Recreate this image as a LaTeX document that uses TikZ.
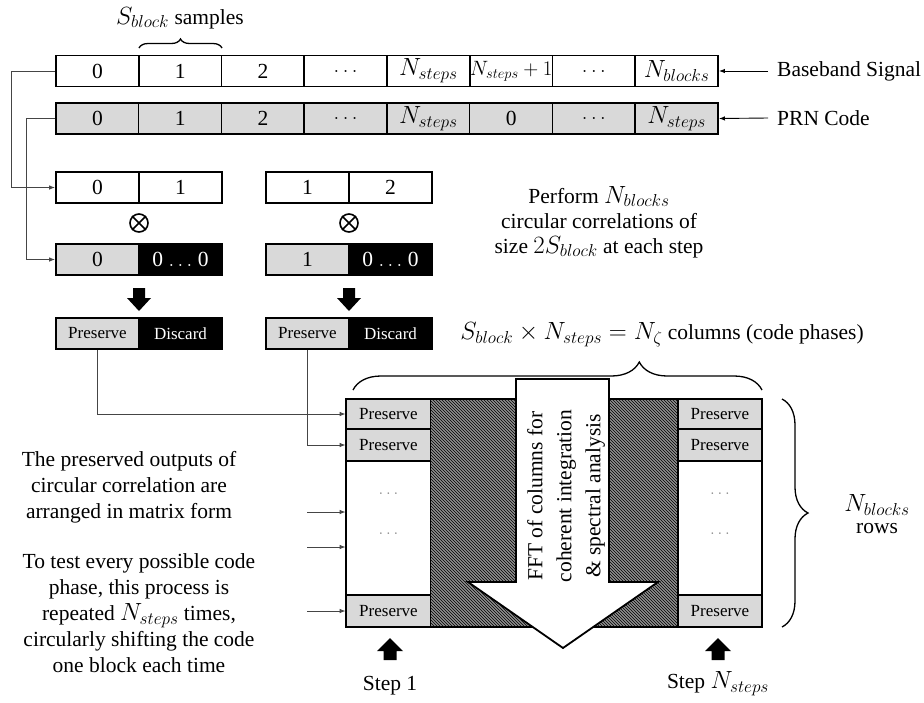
\documentclass[tikz,border=0pt]{standalone}
\usepackage{fontspec}
\setmainfont{Liberation Serif}
\usetikzlibrary{arrows.meta,patterns,decorations.pathreplacing,calc}

\definecolor{cellgray}{HTML}{D9D9D9}
\definecolor{linegray}{HTML}{454545}
\definecolor{hatchgray}{HTML}{8E8E8E}
\definecolor{dotgray}{HTML}{8A8A8A}

\newcommand\bigtext{\fontsize{21.5}{26}\selectfont}
\newcommand\smalltext{\fontsize{17}{20}\selectfont}
\newcommand\mth[1]{{\fontsize{24}{26}\selectfont$#1$}}

\begin{document}
\begin{tikzpicture}[x=1pt,y=-1pt,
  every node/.style={font=\bigtext},
  cell/.style={draw, line width=1.7pt, minimum width=83pt, minimum height=31pt, inner sep=0pt},
  gcell/.style={cell, fill=cellgray},
  kcell/.style={cell, fill=black, text=white},
  mcell/.style={gcell, font=\smalltext, minimum width=84pt},
  link/.style={draw=linegray, line width=0.9pt, -{Latex[length=6pt,width=4.5pt]}},
  tip/.style={draw=black, line width=0.9pt, -{Latex[length=6pt,width=4.5pt]}},
  otimes/.style={circle, draw, line width=1.6pt, minimum size=18pt, inner sep=0pt},
  brc/.style={draw, line width=1.3pt, decorate},
  fatdown/.pic={\fill (-6,0) -- (6,0) -- (6,10) -- (12,10) -- (0,23) -- (-12,10) -- (-6,10) -- cycle;},
  fatup/.pic={\fill (-6.5,0) -- (6.5,0) -- (6.5,-9) -- (13,-9) -- (0,-22) -- (-13,-9) -- (-6.5,-9) -- cycle;}
]
\useasboundingbox (0,0) rectangle (924,702);

% ---- baseband signal and PRN code rows
\foreach \i/\t in {0/0,1/1,2/2,3/{$\dots$},4/{\mth{N_{steps}}},5/{\fontsize{19.5}{20}\selectfont$N_{steps}+1$},6/{$\dots$},7/{\mth{N_{blocks}}}}
  \node[cell] (b\i) at ({56+82.75*(\i+0.5)},71) {\t};
\foreach \i/\t in {0/0,1/1,2/2,3/{$\dots$},4/{\mth{N_{steps}}},5/0,6/{$\dots$},7/{\mth{N_{steps}}}}
  \node[gcell] (p\i) at ({56+82.75*(\i+0.5)},118.5) {\t};

\draw[decorate, brc, decoration={brace, amplitude=9pt}] (139,48) -- (222,48);
\node (samples) at (180,18) {\mth{S_{block}} samples};

\node[anchor=west, inner xsep=9pt, inner ysep=0pt] (bb) at (768,71) {Baseband Signal};
\node[anchor=west, inner xsep=9pt, inner ysep=0pt] (prn) at (768,118) {PRN Code};
\draw[tip] (bb.west) -- (b7.east);
\draw[tip] (prn.west) -- (p7.east);

% ---- first circular correlation
\node[cell] (u0) at (97.5,187.5) {0};
\node[cell] (u1) at (180.5,187.5) {1};
\node[otimes] (x1) at (139,223) {};
\draw[line width=1.6pt] (x1.north west) -- (x1.south east) (x1.north east) -- (x1.south west);
\node[gcell] (c0) at (97.5,259.5) {0};
\node[kcell] (z0) at (180.5,259.5) {0 $\dots$ 0};
\pic at (139,288) {fatdown};
\node[gcell, font=\smalltext] (keep1) at (97.5,333.5) {Preserve};
\node[kcell, font=\smalltext] (drop1) at (180.5,333.5) {Discard};

% ---- second circular correlation
\node[cell] (v0) at (307.5,187.5) {1};
\node[cell] (v1) at (390.5,187.5) {2};
\node[otimes] (x2) at (349,223) {};
\draw[line width=1.6pt] (x2.north west) -- (x2.south east) (x2.north east) -- (x2.south west);
\node[gcell] (c1) at (307.5,259.5) {1};
\node[kcell] (z1) at (390.5,259.5) {0 $\dots$ 0};
\pic at (349,288) {fatdown};
\node[gcell, font=\smalltext] (keep2) at (307.5,333.5) {Preserve};
\node[kcell, font=\smalltext] (drop2) at (390.5,333.5) {Discard};

\draw[link] (b0.west) -- ++(-44,0) |- (u0.west);
\draw[link] (p0.west) -- ++(-29,0) |- (c0.west);

\node[align=center, font=\fontsize{21.5}{25}\selectfont] (perform) at (599,222)
  {Perform \mth{N_{blocks}}\\circular correlations of\\size \mth{2S_{block}} at each step};

% ---- result matrix
\fill[hatchgray] (431,399) rectangle (678,627);
\fill[pattern=north west lines, pattern color=black] (431,399) rectangle (678,627);

\node[mcell, minimum height=30pt] (l1) at (388.5,414) {Preserve};
\node[mcell, minimum height=32pt] (l2) at (388.5,445) {Preserve};
\node[cell, fill=white, minimum width=84pt, minimum height=134pt] (l3) at (388.5,528) {};
\node[mcell, minimum height=32pt] (l4) at (388.5,611) {Preserve};
\node[text=dotgray, font=\smalltext] (l3a) at (388.5,494) {$\dots$};
\node[text=dotgray, font=\smalltext] (l3b) at (388.5,534) {$\dots$};

\node[mcell, minimum height=30pt] (r1) at (720,414) {Preserve};
\node[mcell, minimum height=32pt] (r2) at (720,445) {Preserve};
\node[cell, fill=white, minimum width=84pt, minimum height=134pt] (r3) at (720,528) {};
\node[mcell, minimum height=32pt] (r4) at (720,611) {Preserve};
\node[text=dotgray, font=\smalltext] (r3a) at (720,494) {$\dots$};
\node[text=dotgray, font=\smalltext] (r3b) at (720,534) {$\dots$};

\draw[line width=1.8pt] (346,399) rectangle (762,627);

% FFT arrow over the columns
\draw[line width=1.8pt, fill=white, line join=miter]
  (516,379) -- (609,379) -- (609,582) -- (658,582) -- (563,648) -- (468,582) -- (516,582) -- cycle;
\node[rotate=90, align=center, font=\fontsize{21.5}{29}\selectfont] (fft) at (566,496)
  {FFT of columns for\\coherent integration\\\& spectral analysis};

% inputs into the matrix rows
\draw[link] (keep1.south) |- (l1.west);
\draw[link] (keep2.south) |- (l2.west);
\coordinate (s1) at (307,512);
\coordinate (s2) at (307,547);
\coordinate (s3) at (307,611);
\draw[link] (s1) -- (s1 -| l3.west);
\draw[link] (s2) -- (s2 -| l3.west);
\draw[link] (s3) -- (l4.west);

% braces and labels
\draw[brc, decoration={brace, amplitude=28pt, aspect=0.7}] (353,390) -- (762,390);
\node (cols) at (662,335) {\mth{S_{block}\times N_{steps}=N_\zeta} columns (code phases)};

\draw[brc, decoration={brace, amplitude=26pt}] (782,399) -- (782,627);
\node[align=center, font=\fontsize{21.5}{22}\selectfont] (rows) at (877,514) {\mth{N_{blocks}}\\rows};

\node[align=center] (note1) at (129,487)
  {The preserved outputs of\\circular correlation are\\arranged in matrix form};
\node[align=center] (note2) at (139,613)
  {To test every possible code\\phase, this process is\\repeated \mth{N_{steps}} times,\\circularly shifting the code\\one block each time};

\pic at (390,660) {fatup};
\pic at (718,660) {fatup};
\node (step1) at (390,686) {Step 1};
\node (stepn) at (718,684) {Step \mth{N_{steps}}};
\end{tikzpicture}
\end{document}
